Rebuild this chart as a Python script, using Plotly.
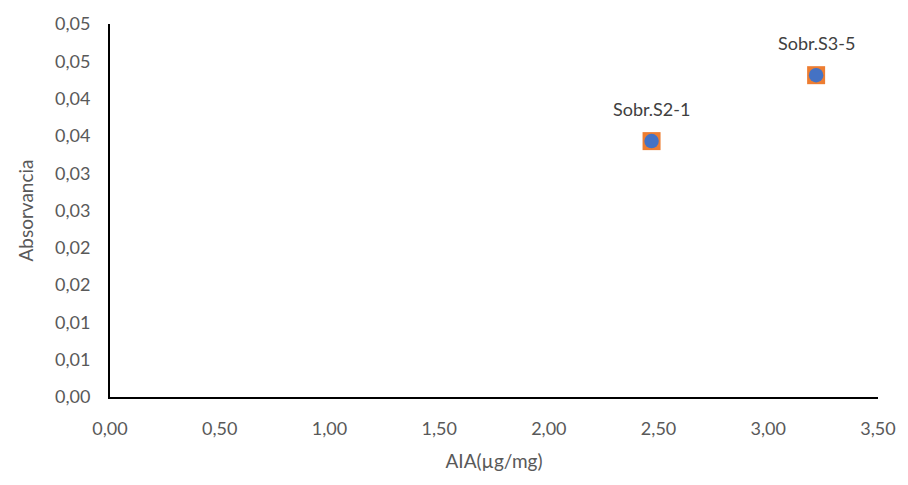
import plotly.graph_objects as go

x_vals = [2.468, 3.218]
y_vals = [0.0343, 0.04314]
labels = ["Sobr.S2-1", "Sobr.S3-5"]

x_ticks = [0, 0.5, 1.0, 1.5, 2.0, 2.5, 3.0, 3.5]
x_ticktext = ["0,00", "0,50", "1,00", "1,50", "2,00", "2,50", "3,00", "3,50"]
y_ticks = [0, 0.005, 0.01, 0.015, 0.02, 0.025, 0.03, 0.035, 0.04, 0.045, 0.05]
y_ticktext = ["0,00", "0,01", "0,01", "0,02", "0,02", "0,03", "0,03", "0,04", "0,04", "0,05", "0,05"]

FONT = "Lato, Open Sans, sans-serif"
GRAY = "#595959"

fig = go.Figure()
fig.add_trace(go.Scatter(x=x_vals, y=y_vals, mode="markers",
                         marker=dict(symbol="square", size=18, color="#ED7D31"),
                         showlegend=False, hoverinfo="skip"))
fig.add_trace(go.Scatter(x=x_vals, y=y_vals, mode="markers",
                         marker=dict(symbol="circle", size=14.5, color="#4472C4"),
                         showlegend=False))
for xv, yv, lb in zip(x_vals, y_vals, labels):
    fig.add_annotation(x=xv, y=yv, text=lb, showarrow=False, yshift=32,
                       font=dict(family=FONT, size=18, color="#404040"))

fig.update_layout(
    width=908, height=485,
    margin=dict(l=110, r=28, t=18, b=88),
    plot_bgcolor="white", paper_bgcolor="white",
    font=dict(family=FONT, size=18, color=GRAY),
    xaxis=dict(range=[0, 3.5], tickvals=x_ticks, ticktext=x_ticktext,
               showgrid=False, zeroline=False, showline=True, linecolor="black",
               linewidth=2, ticks="", tickfont=dict(size=18, color=GRAY),
               ticklabelstandoff=14,
               title=dict(text="AIA(µg/mg)", font=dict(size=19, color=GRAY), standoff=17)),
    yaxis=dict(range=[0, 0.05], tickvals=y_ticks, ticktext=y_ticktext,
               showgrid=False, zeroline=False, showline=True, linecolor="black",
               linewidth=2, ticks="", tickfont=dict(size=18, color=GRAY),
               ticklabelstandoff=14,
               title=dict(text="Absorvancia", font=dict(size=19, color=GRAY), standoff=16)),
)

fig.write_html("out.html")
